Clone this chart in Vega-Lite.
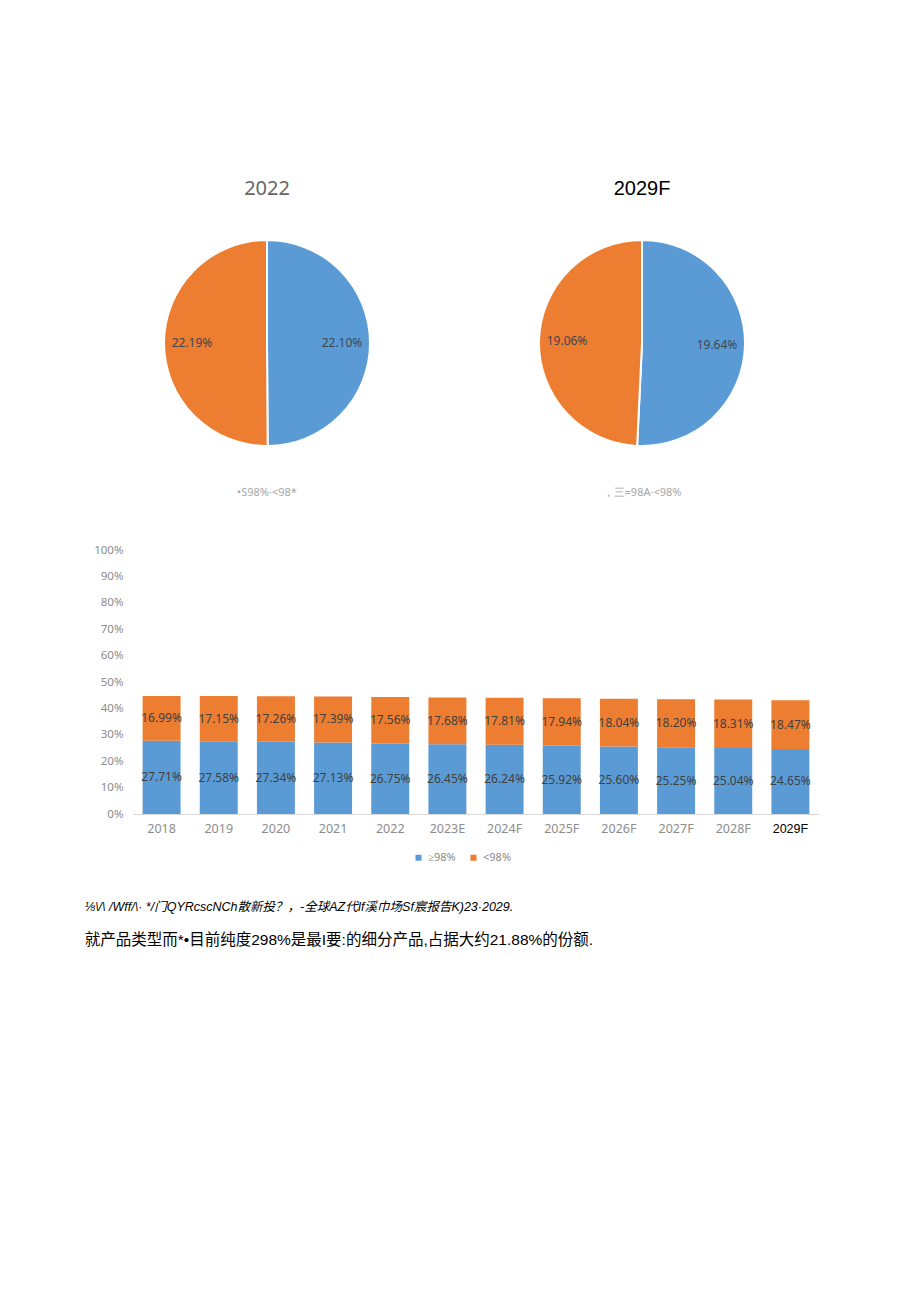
{
  "$schema": "https://vega.github.io/schema/vega-lite/v6.json",
  "background": "white",
  "padding": {"left": 84, "top": 179, "right": 0, "bottom": 0},
  "config": {"view": {"stroke": null}, "font": "Noto Sans"},
  "center": true,
  "spacing": 46,
  "resolve": {"scale": {"color": "independent"}, "legend": {"color": "independent"}},
  "title": {
    "text": "⅛\\/\\ /Wff/\\· */门QYRcscNCh散新投？，-全球AZ代If溪巾场Sf宸报告K)23·2029.",
    "subtitle": "就产品类型而*•目前纯度298%是最I要:的细分产品,占据大约21.88%的份额.",
    "orient": "bottom",
    "anchor": "start",
    "frame": "bounds",
    "dx": -9,
    "offset": 38,
    "font": "Liberation Sans, Noto Sans CJK SC",
    "fontSize": 12.5,
    "fontStyle": "italic",
    "fontWeight": "normal",
    "color": "#000000",
    "subtitleFont": "Liberation Sans, Noto Sans CJK SC",
    "subtitleFontSize": 15.5,
    "subtitleColor": "#000000",
    "subtitlePadding": 19
  },
  "vconcat": [
    {
      "spacing": 122,
      "resolve": {"scale": {"color": "independent"}, "legend": {"color": "independent"}},
      "hconcat": [
        {
          "title": {"text": "2022", "anchor": "middle", "fontSize": 20, "font": "Noto Sans", "fontWeight": "normal", "color": "#666666", "offset": 37},
          "vconcat": [
            {
              "width": 206,
              "height": 206,
              "title": {"text": "•S98%·<98*", "orient": "bottom", "anchor": "middle", "fontSize": 11, "fontWeight": "normal", "color": "#a6a6a6", "offset": 37},
              "data": {"values": [
                {"group": "≥98%", "share": 22.10, "label": "22.10%"},
                {"group": "<98%", "share": 22.19, "label": "22.19%"}
              ]},
              "encoding": {
                "theta": {"field": "share", "type": "quantitative", "stack": true},
                "order": {"field": "group", "sort": "descending"},
                "color": {"field": "group", "type": "nominal", "scale": {"domain": ["≥98%", "<98%"], "range": ["#5B9BD5", "#ED7D31"]}, "legend": null}
              },
              "layer": [
                {"mark": {"type": "arc", "stroke": "white", "strokeWidth": 2}},
                {"mark": {"type": "text", "radius": 75, "fontSize": 12}, "encoding": {"text": {"field": "label"}, "color": {"value": "#3d4654"}, "detail": {"field": "group"}}}
              ]
            }
          ]
        },
        {
          "title": {"text": "2029F", "anchor": "middle", "fontSize": 20, "font": "Liberation Sans", "fontWeight": "normal", "color": "#000000", "offset": 37},
          "vconcat": [
            {
              "width": 292,
              "height": 206,
              "title": {"text": "，三=98A·<98%", "orient": "bottom", "anchor": "middle", "fontSize": 11, "fontWeight": "normal", "color": "#a6a6a6", "offset": 37},
              "data": {"values": [
                {"group": "≥98%", "share": 19.64, "label": "19.64%"},
                {"group": "<98%", "share": 19.06, "label": "19.06%"}
              ]},
              "encoding": {
                "theta": {"field": "share", "type": "quantitative", "stack": true},
                "order": {"field": "group", "sort": "descending"},
                "color": {"field": "group", "type": "nominal", "scale": {"domain": ["≥98%", "<98%"], "range": ["#5B9BD5", "#ED7D31"]}, "legend": null}
              },
              "layer": [
                {"mark": {"type": "arc", "stroke": "white", "strokeWidth": 2}},
                {"mark": {"type": "text", "radius": 75, "fontSize": 12}, "encoding": {"text": {"field": "label"}, "color": {"value": "#3d4654"}, "detail": {"field": "group"}}}
              ]
            }
          ]
        }
      ]
    },
    {
      "width": 686,
      "height": 264,
      "data": {"values": [
        {"year": "2018", "group": "≥98%", "value": 27.71, "label": "27.71%"},
        {"year": "2018", "group": "<98%", "value": 16.99, "label": "16.99%"},
        {"year": "2019", "group": "≥98%", "value": 27.58, "label": "27.58%"},
        {"year": "2019", "group": "<98%", "value": 17.15, "label": "17.15%"},
        {"year": "2020", "group": "≥98%", "value": 27.34, "label": "27.34%"},
        {"year": "2020", "group": "<98%", "value": 17.26, "label": "17.26%"},
        {"year": "2021", "group": "≥98%", "value": 27.13, "label": "27.13%"},
        {"year": "2021", "group": "<98%", "value": 17.39, "label": "17.39%"},
        {"year": "2022", "group": "≥98%", "value": 26.75, "label": "26.75%"},
        {"year": "2022", "group": "<98%", "value": 17.56, "label": "17.56%"},
        {"year": "2023E", "group": "≥98%", "value": 26.45, "label": "26.45%"},
        {"year": "2023E", "group": "<98%", "value": 17.68, "label": "17.68%"},
        {"year": "2024F", "group": "≥98%", "value": 26.24, "label": "26.24%"},
        {"year": "2024F", "group": "<98%", "value": 17.81, "label": "17.81%"},
        {"year": "2025F", "group": "≥98%", "value": 25.92, "label": "25.92%"},
        {"year": "2025F", "group": "<98%", "value": 17.94, "label": "17.94%"},
        {"year": "2026F", "group": "≥98%", "value": 25.60, "label": "25.60%"},
        {"year": "2026F", "group": "<98%", "value": 18.04, "label": "18.04%"},
        {"year": "2027F", "group": "≥98%", "value": 25.25, "label": "25.25%"},
        {"year": "2027F", "group": "<98%", "value": 18.20, "label": "18.20%"},
        {"year": "2028F", "group": "≥98%", "value": 25.04, "label": "25.04%"},
        {"year": "2028F", "group": "<98%", "value": 18.31, "label": "18.31%"},
        {"year": "2029F", "group": "≥98%", "value": 24.65, "label": "24.65%"},
        {"year": "2029F", "group": "<98%", "value": 18.47, "label": "18.47%"}
      ]},
      "encoding": {
        "x": {
          "field": "year", "type": "ordinal", "sort": null,
          "scale": {"paddingInner": 0.336, "paddingOuter": 0.168},
          "axis": {
            "title": null, "labelAngle": 0, "ticks": false, "domainColor": "#d9d9d9",
            "labelFontSize": 12.5, "labelPadding": 8,
            "labelColor": {"condition": {"test": "datum.value === '2029F'", "value": "#000000"}, "value": "#8c8c8c"},
            "labelFont": {"condition": {"test": "datum.value === '2029F'", "value": "Liberation Sans"}, "value": "Noto Sans"}
          }
        },
        "y": {
          "field": "value", "type": "quantitative", "stack": "zero",
          "scale": {"domain": [0, 100]},
          "axis": {
            "title": null, "values": [0, 10, 20, 30, 40, 50, 60, 70, 80, 90, 100],
            "labelExpr": "datum.value + '%'", "domain": false, "ticks": false, "grid": false,
            "labelColor": "#8c8c8c", "labelFontSize": 11.5, "labelPadding": 10
          }
        },
        "order": {"field": "group", "sort": "descending"}
      },
      "layer": [
        {
          "mark": {"type": "bar"},
          "encoding": {
            "color": {
              "field": "group", "type": "nominal",
              "scale": {"domain": ["≥98%", "<98%"], "range": ["#5B9BD5", "#ED7D31"]},
              "legend": {"orient": "none", "legendX": 280, "legendY": 302, "direction": "horizontal", "title": null, "symbolType": "square", "symbolSize": 36, "labelFontSize": 11, "labelColor": "#8c8c8c", "columnPadding": 12, "labelOffset": 4}
            }
          }
        },
        {
          "mark": {"type": "text", "fontSize": 12},
          "encoding": {
            "y": {"field": "value", "type": "quantitative", "stack": "zero", "bandPosition": 0.5},
            "detail": {"field": "group"},
            "text": {"field": "label"},
            "color": {"value": "#404040"}
          }
        }
      ]
    }
  ]
}
